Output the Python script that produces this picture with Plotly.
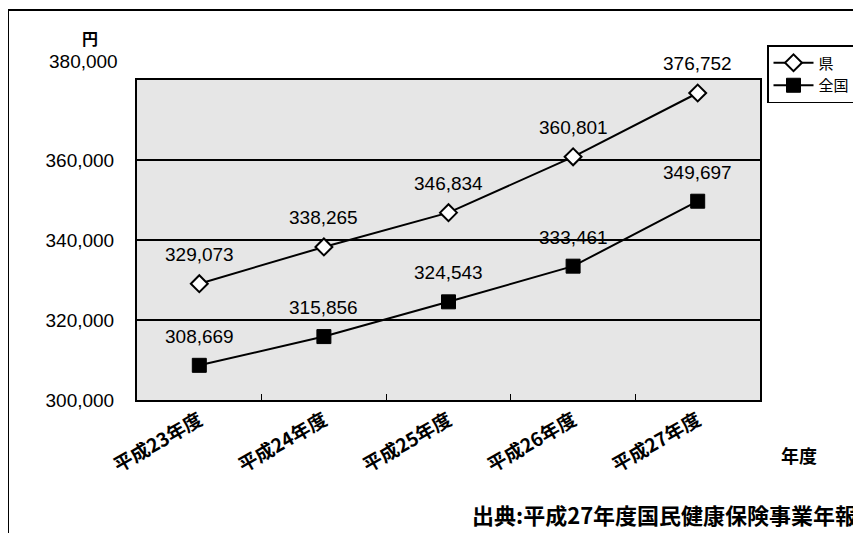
import plotly.graph_objects as go

categories = ["平成23年度", "平成24年度", "平成25年度", "平成26年度", "平成27年度"]
ken_values = [329073, 338265, 346834, 360801, 376752]
zenkoku_values = [308669, 315856, 324543, 333461, 349697]
y_ticks = [300000, 320000, 340000, 360000, 380000]

NUM_FONT = "Liberation Sans, Arial, sans-serif"
JP_FONT = "Noto Sans CJK JP, sans-serif"

OFF = 8  # browser body margin
W, H = 861, 533
L, R, T, B = 137 - OFF, W - (760 - OFF), 80 - OFF, H - (400 - OFF)
pw, ph = W - L - R, H - T - B


def px_x(x):
    return (x - OFF - L) / pw


def px_y(y):
    return (H - B - (y - OFF)) / ph


fig = go.Figure()
fig.add_trace(go.Scatter(
    x=categories, y=ken_values, name="県", mode="lines+markers",
    line=dict(color="black", width=2),
    marker=dict(symbol="diamond", size=13, color="white", line=dict(color="black", width=2)),
))
fig.add_trace(go.Scatter(
    x=categories, y=zenkoku_values, name="全国", mode="lines+markers",
    line=dict(color="black", width=2),
    marker=dict(symbol="square", size=14, color="black", line=dict(color="black", width=1)),
))

for series in (ken_values, zenkoku_values):
    for c, v in zip(categories, series):
        fig.add_annotation(x=c, y=v, text=f"{v:,}", showarrow=False, yshift=29,
                           xanchor="center", yanchor="middle",
                           font=dict(family=NUM_FONT, size=19, color="black"))

fig.update_layout(
    width=W, height=H,
    margin=dict(l=L, r=R, t=T, b=B),
    paper_bgcolor="white",
    plot_bgcolor="#e6e6e6",
    font=dict(family=NUM_FONT, color="black"),
    legend=dict(
        x=px_x(767), y=px_y(45), xanchor="left", yanchor="top",
        bordercolor="black", borderwidth=1.5, bgcolor="white",
        font=dict(family=JP_FONT, size=15, color="black"),
        itemwidth=40, tracegroupgap=4,
    ),
    xaxis=dict(
        type="category", range=[-0.5, 4.5], tickangle=-30,
        tickfont=dict(family=JP_FONT, size=19, color="black", weight="bold"),
        showline=True, linecolor="black", linewidth=2, mirror=True,
        ticks="inside", tickson="boundaries", ticklen=6, tickcolor="black",
        showgrid=False,
    ),
    yaxis=dict(
        range=[300000, 380000], tickvals=y_ticks[:-1], tickformat=",",
        tickfont=dict(family=NUM_FONT, size=19, color="black"),
        showline=True, linecolor="black", linewidth=2, mirror=True,
        showgrid=True, gridcolor="black", gridwidth=1.5,
        ticks="", ticklabelstandoff=17, zeroline=False,
    ),
    showlegend=True,
)

# top tick label sits above the frame in the original
fig.add_annotation(x=0, xref="paper", y=y_ticks[-1], yref="y", text=f"{y_ticks[-1]:,}",
                   xanchor="right", yanchor="middle", xshift=-17, yshift=19, showarrow=False,
                   font=dict(family=NUM_FONT, size=19, color="black"))

# decorative outer frame lines (left and top)
fig.add_shape(type="line", xref="paper", yref="paper",
              x0=px_x(8), x1=px_x(8), y0=px_y(10), y1=px_y(560),
              line=dict(color="black", width=2))
fig.add_shape(type="line", xref="paper", yref="paper",
              x0=px_x(8), x1=px_x(900), y0=px_y(10), y1=px_y(10),
              line=dict(color="black", width=2))

fig.add_annotation(text="円", xref="paper", yref="paper", x=px_x(90), y=px_y(38),
                   xanchor="center", yanchor="middle", showarrow=False,
                   font=dict(family=JP_FONT, size=16, color="black", weight="bold"))
fig.add_annotation(text="年度", xref="paper", yref="paper", x=px_x(799), y=px_y(455),
                   xanchor="center", yanchor="middle", showarrow=False,
                   font=dict(family=JP_FONT, size=18, color="black", weight="bold"))
fig.add_annotation(text="出典:平成27年度国民健康保険事業年報", xref="paper", yref="paper",
                   x=px_x(859), y=px_y(514), xanchor="right", yanchor="middle", showarrow=False,
                   font=dict(family=JP_FONT, size=22, color="black", weight="bold"))

fig.write_html("out.html")
